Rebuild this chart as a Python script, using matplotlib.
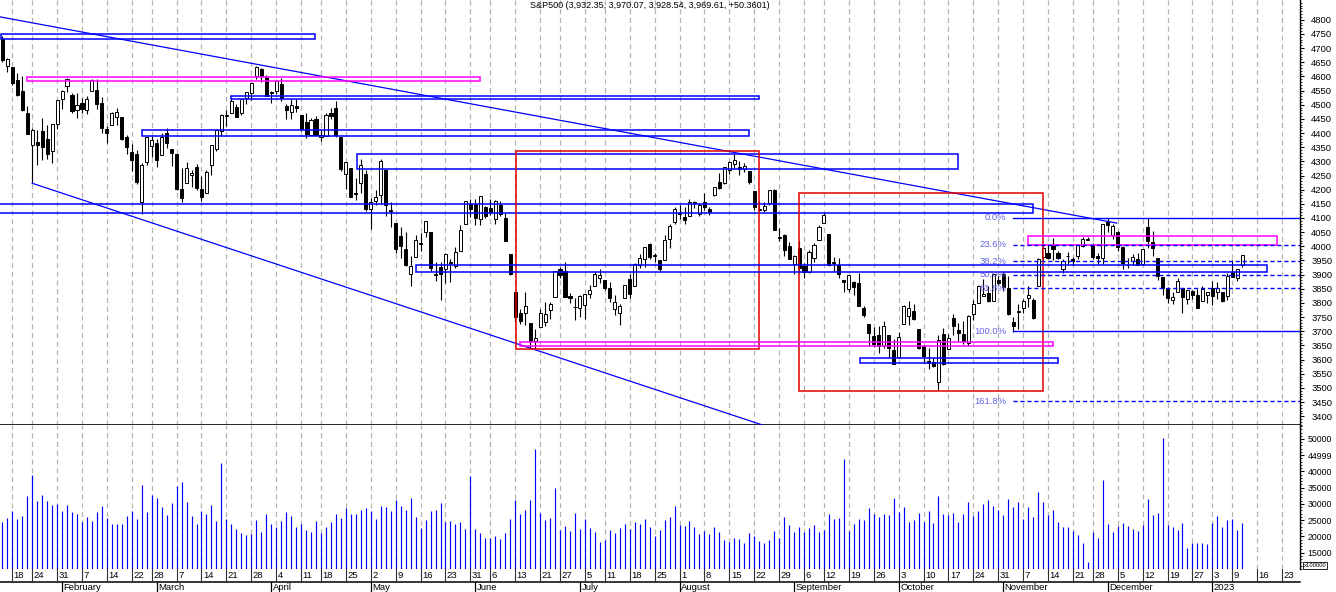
import numpy as np
import pandas as pd
import matplotlib
matplotlib.use("Agg")
import matplotlib.pyplot as plt
from matplotlib.patches import Rectangle
from matplotlib.ticker import FixedLocator, FixedFormatter, MultipleLocator

plt.rcParams['font.family'] = ['Liberation Sans', 'DejaVu Sans']

# ---------------- data ----------------
title = "S&P500 (3,932.35, 3,970.07, 3,928.54, 3,969.61, +50.3601)"
holidays = ["2022-01-17", "2022-02-21", "2022-04-15", "2022-05-30", "2022-06-20",
            "2022-07-04", "2022-09-05", "2022-11-24", "2022-12-26", "2023-01-02"]

open_ = [4733.56, 4637.99, 4632.24, 4588.03, 4547.35, 4471.38, 4356.32, 4366.64, 4408.43, 4380.58,
         4336.19, 4431.79, 4519.57, 4566.39, 4535.41, 4482.79, 4505.75, 4480.02, 4547.00, 4553.24,
         4506.27, 4412.61, 4429.28, 4455.75, 4456.06, 4384.57, 4332.74, 4324.93, 4155.77, 4298.38,
         4354.17, 4363.14, 4322.56, 4401.31, 4342.12, 4327.01, 4202.66, 4223.10, 4252.55, 4279.50,
         4202.75, 4188.82, 4288.14, 4345.11, 4407.34, 4462.40, 4469.10, 4493.10, 4469.98, 4522.91,
         4541.09, 4602.86, 4624.20, 4599.02, 4540.32, 4547.97, 4572.45, 4494.17, 4474.65, 4494.15,
         4462.64, 4437.59, 4394.30, 4449.12, 4385.63, 4390.63, 4472.26, 4489.17, 4385.83, 4255.34,
         4278.14, 4186.52, 4222.58, 4253.75, 4130.61, 4159.78, 4181.18, 4270.43, 4128.17, 4081.27,
         4035.18, 3990.08, 3903.95, 3963.90, 4013.02, 4052.00, 4051.98, 3899.00, 3927.76, 3919.42,
         3942.94, 3929.59, 3984.60, 4077.43, 4151.09, 4149.78, 4095.41, 4137.57, 4134.72, 4096.47,
         4147.12, 4101.65, 3974.39, 3838.15, 3763.52, 3764.05, 3728.18, 3665.90, 3715.31, 3733.89,
         3774.71, 3821.75, 3920.76, 3913.00, 3825.09, 3785.99, 3781.00, 3792.61, 3831.98, 3858.85,
         3888.26, 3880.94, 3851.95, 3779.67, 3763.99, 3818.00, 3883.79, 3860.73, 3935.32, 3955.47,
         4007.36, 3965.72, 3953.22, 3951.43, 4026.13, 4087.33, 4112.38, 4104.21, 4107.96, 4154.85,
         4115.87, 4155.93, 4133.11, 4181.02, 4227.40, 4225.02, 4269.37, 4290.46, 4280.40, 4273.13,
         4266.31, 4195.08, 4133.09, 4126.55, 4153.26, 4198.74, 4034.58, 4041.25, 4000.67, 3936.73,
         3994.66, 3930.89, 3909.43, 3959.94, 4022.94, 4083.67, 4042.35, 3940.73, 3932.41, 3880.95,
         3849.91, 3875.23, 3871.40, 3782.36, 3727.14, 3682.72, 3686.44, 3651.94, 3687.01, 3633.48,
         3609.78, 3726.46, 3753.25, 3771.97, 3706.74, 3647.51, 3595.86, 3590.83, 3520.37, 3690.41,
         3638.65, 3746.26, 3703.11, 3689.05, 3657.10, 3762.01, 3799.44, 3825.97, 3834.69, 3808.26,
         3881.85, 3901.79, 3852.90, 3733.25, 3766.98, 3780.71, 3817.02, 3810.94, 3859.89, 3963.72,
         3977.97, 4006.41, 3976.82, 3919.26, 3966.39, 3956.23, 3965.51, 4000.30, 4023.34, 4005.36,
         3964.19, 3957.18, 4087.14, 4040.17, 4052.02, 3996.63, 3933.28, 3947.79, 3954.17, 3939.29,
         4069.38, 4015.54, 3958.37, 3890.91, 3853.79, 3810.47, 3839.49, 3853.26, 3815.11, 3843.34,
         3829.56, 3805.45, 3829.06, 3853.29, 3840.36, 3839.74, 3823.37, 3910.82, 3888.57, 3932.35]

high = [4744.13, 4665.13, 4632.24, 4611.55, 4602.11, 4494.52, 4417.35, 4411.01, 4453.23, 4428.74,
        4432.72, 4516.89, 4550.49, 4595.31, 4542.88, 4539.66, 4521.86, 4531.32, 4590.03, 4588.92,
        4526.33, 4426.22, 4472.77, 4489.55, 4456.06, 4394.60, 4362.12, 4341.51, 4294.73, 4385.34,
        4388.84, 4378.45, 4401.48, 4416.78, 4342.12, 4327.01, 4276.94, 4299.40, 4268.28, 4291.01,
        4247.57, 4271.05, 4358.90, 4412.67, 4465.40, 4481.75, 4522.00, 4501.07, 4520.58, 4546.03,
        4575.65, 4637.30, 4627.77, 4603.07, 4548.70, 4583.50, 4593.45, 4503.94, 4521.16, 4520.41,
        4464.35, 4471.00, 4453.92, 4460.46, 4410.31, 4471.03, 4488.29, 4512.94, 4385.83, 4299.02,
        4278.14, 4240.71, 4308.45, 4269.68, 4169.81, 4200.10, 4307.66, 4270.43, 4157.69, 4081.27,
        4068.82, 4049.09, 3964.80, 4038.88, 4046.46, 4090.72, 4051.98, 3945.96, 3943.42, 3975.45,
        3955.68, 3999.33, 4075.14, 4158.49, 4168.34, 4166.54, 4177.51, 4142.67, 4168.78, 4164.86,
        4160.14, 4119.10, 3974.39, 3838.15, 3778.18, 3837.56, 3728.18, 3707.71, 3779.65, 3801.79,
        3802.58, 3913.65, 3927.72, 3945.86, 3836.50, 3818.99, 3829.82, 3832.19, 3863.61, 3910.63,
        3918.50, 3880.94, 3873.41, 3829.44, 3796.41, 3863.62, 3902.44, 3939.81, 3974.13, 3999.29,
        4012.44, 3975.30, 3953.22, 4039.56, 4078.95, 4140.15, 4144.95, 4140.47, 4167.66, 4161.29,
        4151.58, 4186.62, 4137.30, 4211.03, 4257.91, 4280.47, 4301.79, 4325.28, 4302.18, 4292.53,
        4266.31, 4195.08, 4159.77, 4156.56, 4200.54, 4203.04, 4062.99, 4044.98, 4015.37, 3970.23,
        4018.43, 3942.55, 3987.89, 4010.50, 4076.81, 4119.28, 4042.35, 3961.94, 3959.14, 3880.95,
        3900.45, 3876.01, 3907.07, 3790.60, 3727.14, 3715.67, 3717.53, 3736.74, 3687.01, 3671.44,
        3698.35, 3791.92, 3806.91, 3797.93, 3706.74, 3652.17, 3640.66, 3608.34, 3685.41, 3712.00,
        3689.73, 3762.79, 3728.58, 3736.00, 3757.89, 3810.74, 3862.85, 3886.15, 3859.95, 3905.42,
        3893.73, 3911.79, 3894.44, 3750.59, 3796.34, 3813.95, 3859.40, 3818.20, 3958.33, 4001.48,
        4008.97, 4028.84, 3983.09, 3954.33, 3979.89, 3962.00, 4005.88, 4033.78, 4034.02, 4012.27,
        3976.77, 4080.11, 4100.51, 4080.48, 4052.45, 4001.51, 3957.57, 3974.19, 3977.02, 3990.71,
        4100.96, 4053.76, 3958.37, 3890.91, 3854.86, 3838.24, 3889.82, 3853.26, 3845.80, 3846.65,
        3848.32, 3858.19, 3839.85, 3878.46, 3873.16, 3839.74, 3906.19, 3950.57, 3919.83, 3970.07]

low = [4650.29, 4614.75, 4568.70, 4530.20, 4477.95, 4395.34, 4222.62, 4287.11, 4304.80, 4309.50,
       4292.46, 4414.02, 4483.53, 4544.32, 4470.39, 4451.50, 4471.47, 4465.40, 4547.00, 4484.31,
       4401.41, 4364.84, 4429.28, 4429.68, 4373.81, 4327.22, 4267.11, 4221.51, 4114.65, 4286.83,
       4315.12, 4279.54, 4322.56, 4345.56, 4284.98, 4199.85, 4157.87, 4223.10, 4209.80, 4200.49,
       4161.72, 4187.90, 4251.99, 4335.65, 4390.57, 4424.30, 4469.10, 4455.81, 4465.17, 4501.07,
       4517.69, 4589.66, 4581.32, 4530.41, 4507.57, 4539.21, 4514.17, 4450.04, 4450.30, 4474.60,
       4408.38, 4381.34, 4392.70, 4392.59, 4370.30, 4390.63, 4448.76, 4384.47, 4267.62, 4200.82,
       4175.04, 4162.90, 4188.63, 4124.28, 4062.51, 4147.08, 4148.91, 4106.01, 4067.91, 3975.48,
       3958.17, 3928.82, 3858.87, 3963.90, 3983.99, 4033.93, 3911.91, 3876.58, 3810.32, 3868.91,
       3875.13, 3925.03, 3984.60, 4077.43, 4104.88, 4073.85, 4074.37, 4098.67, 4109.18, 4080.19,
       4107.20, 4017.17, 3900.16, 3734.30, 3724.06, 3722.30, 3639.77, 3636.87, 3715.31, 3717.69,
       3743.52, 3821.75, 3889.66, 3820.14, 3799.02, 3738.67, 3752.10, 3742.06, 3817.18, 3858.85,
       3869.34, 3847.22, 3802.36, 3759.07, 3721.56, 3817.18, 3818.63, 3860.73, 3922.03, 3927.64,
       3955.77, 3943.46, 3910.74, 3951.43, 3992.97, 4079.22, 4096.02, 4079.81, 4107.96, 4135.42,
       4107.31, 4128.97, 4112.09, 4177.26, 4201.41, 4219.78, 4256.90, 4277.77, 4253.08, 4261.98,
       4218.70, 4129.86, 4124.03, 4119.97, 4147.59, 4057.66, 4017.42, 3965.21, 3954.53, 3903.65,
       3906.21, 3886.75, 3906.03, 3944.81, 4022.94, 4083.67, 3928.86, 3912.53, 3888.28, 3837.08,
       3838.50, 3827.54, 3789.49, 3749.09, 3647.47, 3644.76, 3623.29, 3640.61, 3610.40, 3584.13,
       3604.93, 3726.46, 3722.66, 3739.22, 3636.96, 3588.10, 3568.45, 3573.86, 3491.58, 3579.68,
       3638.65, 3686.53, 3666.51, 3656.44, 3647.42, 3741.65, 3799.44, 3824.07, 3803.79, 3808.26,
       3863.18, 3843.80, 3758.68, 3698.15, 3708.84, 3764.70, 3786.28, 3744.22, 3859.89, 3944.82,
       3956.40, 3953.17, 3954.34, 3906.54, 3935.98, 3933.34, 3956.88, 3998.66, 4020.76, 3955.77,
       3937.65, 3938.58, 4050.87, 4026.63, 3984.49, 3918.39, 3922.68, 3935.83, 3933.04, 3935.30,
       3993.03, 3965.65, 3879.45, 3827.91, 3800.04, 3795.62, 3839.49, 3764.49, 3797.01, 3813.22,
       3780.78, 3805.45, 3800.34, 3794.33, 3815.77, 3802.42, 3809.56, 3890.42, 3877.29, 3928.54]

close = [4659.03, 4662.85, 4577.11, 4532.76, 4482.73, 4397.94, 4410.13, 4356.45, 4349.93, 4326.51,
         4431.85, 4515.55, 4546.54, 4589.38, 4477.44, 4500.53, 4483.87, 4521.54, 4587.18, 4504.08,
         4418.64, 4401.67, 4471.07, 4475.01, 4380.26, 4348.87, 4304.76, 4225.50, 4288.70, 4384.65,
         4373.94, 4306.26, 4386.54, 4363.49, 4328.87, 4201.09, 4170.70, 4277.88, 4259.52, 4204.31,
         4173.11, 4262.45, 4357.86, 4411.67, 4463.12, 4461.18, 4511.61, 4456.24, 4520.16, 4543.06,
         4575.52, 4631.60, 4602.45, 4530.41, 4545.86, 4582.64, 4525.12, 4481.15, 4500.21, 4488.28,
         4412.53, 4397.45, 4446.59, 4392.59, 4391.69, 4462.21, 4459.45, 4393.66, 4271.78, 4296.12,
         4175.20, 4183.96, 4287.50, 4131.93, 4155.38, 4175.48, 4300.17, 4146.87, 4123.34, 3991.24,
         4001.05, 3935.18, 3930.08, 4023.89, 4008.01, 4088.85, 3923.68, 3900.79, 3901.36, 3973.75,
         3941.48, 3978.73, 4057.84, 4158.24, 4132.15, 4101.23, 4176.82, 4108.54, 4121.43, 4160.68,
         4115.77, 4017.82, 3900.86, 3749.63, 3735.48, 3789.99, 3666.77, 3674.84, 3764.79, 3759.89,
         3795.73, 3911.74, 3900.11, 3821.55, 3818.83, 3785.38, 3825.33, 3831.39, 3845.08, 3902.62,
         3899.38, 3854.43, 3818.80, 3801.78, 3790.38, 3863.16, 3830.85, 3936.69, 3959.90, 3998.95,
         3961.63, 3966.84, 3921.05, 4023.61, 4072.43, 4130.29, 4118.63, 4091.19, 4155.17, 4151.94,
         4145.19, 4140.06, 4122.47, 4210.24, 4207.27, 4280.15, 4297.14, 4305.20, 4274.04, 4283.74,
         4228.48, 4137.99, 4128.73, 4140.77, 4199.12, 4057.66, 4030.61, 3986.16, 3955.00, 3966.85,
         3924.26, 3908.19, 3979.87, 4006.18, 4067.36, 4110.41, 3932.69, 3946.01, 3901.35, 3873.33,
         3899.89, 3855.93, 3789.93, 3757.99, 3693.23, 3655.04, 3647.29, 3719.04, 3640.47, 3585.62,
         3678.43, 3790.93, 3783.28, 3744.52, 3639.66, 3612.39, 3588.84, 3577.03, 3669.91, 3583.07,
         3677.95, 3719.98, 3695.16, 3665.78, 3752.75, 3797.34, 3859.11, 3830.60, 3807.30, 3901.06,
         3871.98, 3856.10, 3759.69, 3719.89, 3770.55, 3806.80, 3828.11, 3748.57, 3956.37, 3992.93,
         3957.25, 3991.73, 3958.79, 3946.56, 3965.34, 3949.94, 4003.58, 4027.26, 4026.12, 3963.94,
         3957.63, 4080.11, 4076.57, 4071.70, 3998.84, 3941.26, 3933.92, 3963.51, 3934.38, 3990.56,
         4019.65, 3995.32, 3895.75, 3852.36, 3817.66, 3821.62, 3878.44, 3822.39, 3844.82, 3829.25,
         3783.22, 3849.28, 3839.50, 3824.14, 3852.97, 3808.10, 3895.08, 3892.09, 3919.25, 3969.61]

volume = [24480, 25720, 27880, 25300, 26230, 32400, 38890, 30860, 32710, 30860,
          29630, 30040, 27880, 29630, 27470, 26850, 24480, 26020, 24690, 27470,
          29320, 25720, 23760, 23760, 23760, 26230, 27880, 25300, 35800, 27570,
          32710, 31790, 29010, 26540, 30240, 35490, 36730, 30550, 26230, 23760,
          27880, 26850, 29630, 24690, 42590, 25300, 23760, 22220, 20980, 20360,
          20670, 25000, 21290, 26850, 23760, 22830, 24690, 27470, 26230, 22830,
          23760, 21910, 21290, 24690, 20980, 22830, 24480, 26850, 25610, 28700,
          26850, 26850, 28080, 28700, 27880, 25300, 29320, 29010, 27770, 31170,
          29320, 28080, 31790, 25920, 22530, 25000, 27770, 28080, 30240, 24380,
          24690, 23760, 24380, 22220, 38680, 22220, 20980, 19440, 19440, 20060,
          19130, 20980, 25300, 31170, 26850, 28080, 31170, 46910, 27160, 25000,
          25610, 34870, 21910, 23140, 21600, 27160, 22220, 25300, 22530, 21290,
          18200, 18820, 21910, 20980, 22530, 23760, 22220, 24380, 23760, 25300,
          22830, 20060, 21910, 25000, 25920, 29320, 23450, 23140, 24690, 22830,
          20670, 21600, 20670, 22830, 21290, 18820, 18200, 19440, 19130, 17890,
          20980, 20060, 18510, 17890, 18820, 21600, 19440, 25920, 23450, 21290,
          22830, 21290, 22530, 23450, 21290, 21910, 26850, 25300, 25610, 43830,
          21600, 23760, 25300, 25000, 28700, 26850, 25920, 26850, 26540, 31790,
          27470, 29010, 24380, 25000, 27160, 24380, 27770, 24070, 32400, 26850,
          26540, 27160, 24380, 26850, 30550, 26230, 27770, 29940, 31170, 29320,
          28080, 26540, 31480, 29010, 30550, 25300, 29010, 25920, 33640, 30550,
          26540, 28080, 24380, 22830, 22830, 21600, 20360, 17890, 12000, 21290,
          19440, 37340, 23760, 21290, 23140, 24070, 23140, 22220, 21600, 23450,
          31480, 26540, 27160, 50200, 23450, 22830, 21910, 24070, 16350, 17890,
          17890, 17890, 17590, 24070, 26230, 22830, 25000, 25300, 21910, 24070]

# drawing objects (trading-day index, price)
trend_x0 = [-0.5, 6.0]
trend_p0 = [4810.0, 4222.6]
trend_x1 = [223.8, 153.4]
trend_p1 = [4082.0, 3365.0]

rect_x0 = [-0.2, 5.0, 46.0, 28.1, 71.2, -1.0, 103.2, 160.0, 104.0, 172.2, 83.1, 206.0]
rect_x1 = [62.8, 95.9, 152.0, 150.0, 191.9, 207.0, 152.0, 209.0, 211.0, 212.0, 253.9, 255.9]
rect_p0 = [4731.8, 4584.7, 4519.0, 4388.4, 4271.9, 4117.6, 3636.5, 3489.3, 3647.1, 3587.0, 3908.3, 4003.6]
rect_p1 = [4749.5, 4598.8, 4531.7, 4409.6, 4324.9, 4149.4, 4335.4, 4187.2, 3663.3, 3604.7, 3933.0, 4036.5]
rect_col = ['#0000ff', '#ff00ff', '#0000ff', '#0000ff', '#0000ff', '#0000ff',
            '#e00000', '#e00000', '#ff00ff', '#0000ff', '#0000ff', '#ff00ff']

fib_levels = [0.0, 23.6, 38.2, 50.0, 61.8, 100.0, 161.8]
fib_high, fib_low = 4100.0, 3700.0
fib_start = 203.0

vol_ticks = [15000, 20000, 25000, 30000, 35000, 40000, 45000, 50000]
vol_tick_labels = ["15000", "20000", "25000", "30000", "35000", "40000", "44999", "50000"]
month_names = {1: "2023", 2: "February", 3: "March", 4: "April", 5: "May", 6: "June",
               7: "July", 8: "August", 9: "September", 10: "October", 11: "November",
               12: "December"}

# ---------------- dates ----------------
dates = pd.bdate_range("2022-01-13", "2023-01-11")
dates = dates[~dates.isin(pd.to_datetime(holidays))]
future = pd.bdate_range("2023-01-12", "2023-01-27")
all_dates = dates.append(future)
n = len(dates)
x = np.arange(n)
o = np.array(open_); h = np.array(high); l = np.array(low); c = np.array(close)
v = np.array(volume)

week_starts = []
for i in range(1, len(all_dates)):
    a = all_dates[i].isocalendar(); b = all_dates[i - 1].isocalendar()
    if (a[0], a[1]) != (b[0], b[1]):
        week_starts.append(i)
month_starts = [i for i in range(1, n) if dates[i].month != dates[i - 1].month]

# ---------------- figure ----------------
W, H = 1336, 592
fig = plt.figure(figsize=(W / 100, H / 100), dpi=100)
fig.patch.set_facecolor('white')


def px_axes(x0, y0, x1, y1):
    return fig.add_axes([x0 / W, 1 - y1 / H, (x1 - x0) / W, (y1 - y0) / H])


XL = (-0.462, 260.6)
ax = px_axes(0, 0, 1300, 425)
axv = px_axes(0, 425, 1300, 569)
axd = px_axes(0, 569, 1300, 592)

# price panel
ax.set_xlim(*XL)
ax.set_ylim(3369.3, 4869.5)
for i in week_starts:
    ax.axvline(i, color='#b4b4b4', lw=0.9, ls=(0, (4, 3)), zorder=0)
    axv.axvline(i, color='#b4b4b4', lw=0.9, ls=(0, (4, 3)), zorder=0)

ax.vlines(x, l, h, color='black', lw=0.8, zorder=2)
up = c >= o
body_lo = np.minimum(o, c)
body_h = np.maximum(np.abs(c - o), 2.0)
ax.bar(x, body_h, bottom=body_lo, width=0.62,
       color=np.where(up, 'white', 'black'), edgecolor='black', linewidth=0.7, zorder=3)

for xa, pa, xb, pb in zip(trend_x0, trend_p0, trend_x1, trend_p1):
    ax.plot([xa, xb], [pa, pb], color='#0000ff', lw=0.9, zorder=4)

for xa, xb, pa, pb, col in zip(rect_x0, rect_x1, rect_p0, rect_p1, rect_col):
    ax.add_patch(Rectangle((xa, pa), xb - xa, pb - pa, fill=False, edgecolor=col,
                           lw=1.1, zorder=4))

for lv in fib_levels:
    p = fib_high - lv / 100.0 * (fib_high - fib_low)
    ls = '-' if lv in (0.0, 100.0) else (0, (3, 2))
    ax.plot([fib_start, XL[1]], [p, p], color='#0000ff', lw=1.0, ls=ls, zorder=4)
    ax.text(fib_start - 1.4, p, f"{lv:.1f}%", ha='right', va='center',
            fontsize=6.8, color='#6464e6', zorder=5)

ax.yaxis.tick_right()
ax.set_yticks(np.arange(3400, 4801, 50))
ax.yaxis.set_minor_locator(MultipleLocator(10))
ax.tick_params(axis='y', which='major', length=3, width=0.8, pad=5, labelsize=6.8)
ax.tick_params(axis='y', which='minor', length=1.5, width=0.6)
ax.set_xticks([])
for s in ('left', 'top'):
    ax.spines[s].set_visible(False)
ax.spines['bottom'].set_linewidth(1.2)
ax.spines['right'].set_linewidth(1.0)

# volume panel
VLO = 9960
axv.set_xlim(*XL)
axv.set_ylim(VLO, 54312)
axv.vlines(x, VLO, v, color='#0000ff', lw=0.85, zorder=2)
axv.yaxis.tick_right()
axv.yaxis.set_major_locator(FixedLocator(vol_ticks))
axv.yaxis.set_major_formatter(FixedFormatter(vol_tick_labels))
axv.yaxis.set_minor_locator(MultipleLocator(1000))
axv.tick_params(axis='y', which='major', length=3, width=0.8, pad=2.5, labelsize=6.3)
axv.tick_params(axis='y', which='minor', length=1.5, width=0.6)
axv.set_xticks([])
for s in ('left', 'top', 'bottom'):
    axv.spines[s].set_visible(False)
axv.spines['right'].set_linewidth(1.0)

# date axis
axd.set_xlim(*XL)
axd.set_ylim(0, 1)
axd.axis('off')
axd.plot([XL[0], XL[1]], [0.448, 0.448], color='black', lw=1.1, clip_on=False)
for i in week_starts:
    axd.plot([i, i], [0.448, 1.0], color='#303030', lw=0.8)
    axd.text(i + 0.3, 0.70, str(all_dates[i].day), ha='left', va='center', fontsize=6.8)
for i in month_starts:
    axd.plot([i, i], [0.0, 0.448], color='black', lw=0.9)
    axd.text(i + 0.3, 0.18, month_names[dates[i].month], ha='left', va='center', fontsize=6.8)

fig.text(1315 / W, 1 - 565.5 / H, "x100000", ha='center', va='center', fontsize=4.2,
         bbox=dict(facecolor='white', edgecolor='black', lw=0.6, pad=0.5))
fig.text(650 / W, 1 - 6 / H, title, ha='center', va='center', fontsize=6.5)

fig.savefig("out.png", dpi=100, facecolor='white')
